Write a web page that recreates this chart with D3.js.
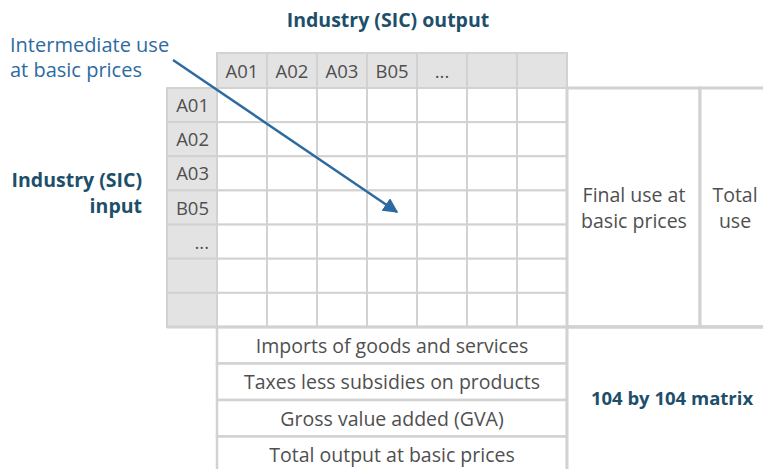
<!DOCTYPE html>
<html>
<head>
<meta charset="utf-8">
<script src="https://cdn.jsdelivr.net/npm/d3@7"></script>
<style>
  body { margin: 0; background: #fff; }
  svg { display: block; font-family: "Open Sans", "Noto Sans", sans-serif; }
</style>
</head>
<body>
<svg width="763" height="469"></svg>
<script>
const colLabels = ["A01", "A02", "A03", "B05", "...", "", ""];
const rowLabels = ["A01", "A02", "A03", "B05", "...", "", ""];
const bottomRows = ["Imports of goods and services", "Taxes less subsidies on products",
                    "Gross value added (GVA)", "Total output at basic prices"];
const sideBlocks = [["Final use at", "basic prices"], ["Total", "use"]];
const titleTop = "Industry (SIC) output";
const titleLeft = ["Industry (SIC)", "input"];
const noteText = ["Intermediate use", "at basic prices"];
const matrixText = "104 by 104 matrix";

const svg = d3.select("svg");
const gridColor = "#d2d2d2", headFill = "#e3e3e3", txt = "#4f4f4f", dark = "#1d4f6b", blue = "#2d6a9f";

const x = d3.scaleBand().domain(d3.range(colLabels.length)).range([217, 567]);
const y = d3.scaleBand().domain(d3.range(rowLabels.length)).range([88, 327]);
const yb = d3.scaleBand().domain(d3.range(bottomRows.length)).range([327, 473]);
const xs = d3.scaleOrdinal().domain([0, 1]).range([[567, 700], [700, 775]]);

// header row
const head = svg.append("g");
head.selectAll("rect").data(colLabels).enter().append("rect")
  .attr("x", (d, i) => x(i)).attr("y", 53)
  .attr("width", x.bandwidth()).attr("height", 88 - 53)
  .attr("fill", headFill).attr("stroke", gridColor).attr("stroke-width", 2);
head.selectAll("text").data(colLabels).enter().append("text")
  .attr("x", (d, i) => x(i) + x.bandwidth() / 2).attr("y", 78)
  .attr("text-anchor", "middle").attr("font-size", 18.5).attr("fill", txt).text(d => d);

// row header column
const rh = svg.append("g");
rh.selectAll("rect").data(rowLabels).enter().append("rect")
  .attr("x", 167).attr("y", (d, i) => y(i))
  .attr("width", 50).attr("height", y.bandwidth())
  .attr("fill", headFill).attr("stroke", gridColor).attr("stroke-width", 2);
rh.selectAll("text").data(rowLabels).enter().append("text")
  .attr("x", 209).attr("y", (d, i) => y(i) + y.bandwidth() / 2 + 7)
  .attr("text-anchor", "end").attr("font-size", 18.5).attr("fill", txt).text(d => d);

// body cells
const cells = [];
rowLabels.forEach((r, i) => colLabels.forEach((c, j) => cells.push({ i, j })));
svg.append("g").selectAll("rect").data(cells).enter().append("rect")
  .attr("x", d => x(d.j)).attr("y", d => y(d.i))
  .attr("width", x.bandwidth()).attr("height", y.bandwidth())
  .attr("fill", "#fff").attr("stroke", gridColor).attr("stroke-width", 2);

// final use / total use
const side = svg.append("g");
side.selectAll("rect").data(sideBlocks).enter().append("rect")
  .attr("x", (d, i) => xs(i)[0]).attr("y", 88)
  .attr("width", (d, i) => xs(i)[1] - xs(i)[0]).attr("height", 327 - 88)
  .attr("fill", "#fff").attr("stroke", gridColor).attr("stroke-width", 3);
side.selectAll("text").data(sideBlocks).enter().append("text")
  .attr("x", (d, i) => i ? 735 : 634)
  .attr("y", 202).attr("text-anchor", "middle").attr("font-size", 19.5).attr("fill", txt)
  .selectAll("tspan").data(d => d).enter().append("tspan")
  .attr("x", function () { return this.parentNode.getAttribute("x"); })
  .attr("dy", (d, k) => k ? 26 : 0).text(d => d);

// bottom rows
const bot = svg.append("g");
bot.selectAll("rect").data(bottomRows).enter().append("rect")
  .attr("x", 217).attr("y", (d, i) => yb(i))
  .attr("width", 350).attr("height", yb.bandwidth())
  .attr("fill", "#fff").attr("stroke", gridColor).attr("stroke-width", 2.5);
bot.selectAll("text").data(bottomRows).enter().append("text")
  .attr("x", 392).attr("y", (d, i) => yb(i) + yb.bandwidth() / 2 + 7.5)
  .attr("text-anchor", "middle").attr("font-size", 19.5).attr("fill", txt).text(d => d);

// matrix block
svg.append("rect").attr("x", 567).attr("y", 327).attr("width", 210).attr("height", 160)
  .attr("fill", "#fff").attr("stroke", gridColor).attr("stroke-width", 3);
svg.append("line").attr("x1", 167).attr("x2", 763).attr("y1", 327).attr("y2", 327)
  .attr("stroke", gridColor).attr("stroke-width", 3);
svg.append("text").attr("x", 672).attr("y", 405).attr("text-anchor", "middle")
  .attr("font-size", 18.5).attr("font-weight", "bold").attr("fill", dark).text(matrixText);

// titles
svg.append("text").attr("x", 388).attr("y", 27).attr("text-anchor", "middle")
  .attr("font-size", 19.5).attr("font-weight", "bold").attr("fill", dark).text(titleTop);
svg.append("text").attr("x", 142).attr("y", 187).attr("text-anchor", "end")
  .attr("font-size", 19.5).attr("font-weight", "bold").attr("fill", dark)
  .selectAll("tspan").data(titleLeft).enter().append("tspan")
  .attr("x", 142).attr("dy", (d, k) => k ? 26 : 0).text(d => d);
svg.append("text").attr("x", 10).attr("y", 52)
  .attr("font-size", 20).attr("fill", blue)
  .selectAll("tspan").data(noteText).enter().append("tspan")
  .attr("x", 10).attr("dy", (d, k) => k ? 25 : 0).text(d => d);

// arrow
svg.append("defs").append("marker").attr("id", "ah")
  .attr("viewBox", "0 0 10 10").attr("refX", 9).attr("refY", 5)
  .attr("markerWidth", 6).attr("markerHeight", 6).attr("markerUnits", "strokeWidth")
  .attr("orient", "auto")
  .append("path").attr("d", "M0,0 L10,5 L0,10 Z").attr("fill", blue);
svg.append("line").attr("x1", 173).attr("y1", 60).attr("x2", 397).attr("y2", 212)
  .attr("stroke", blue).attr("stroke-width", 2.5).attr("marker-end", "url(#ah)");
</script>
</body>
</html>
